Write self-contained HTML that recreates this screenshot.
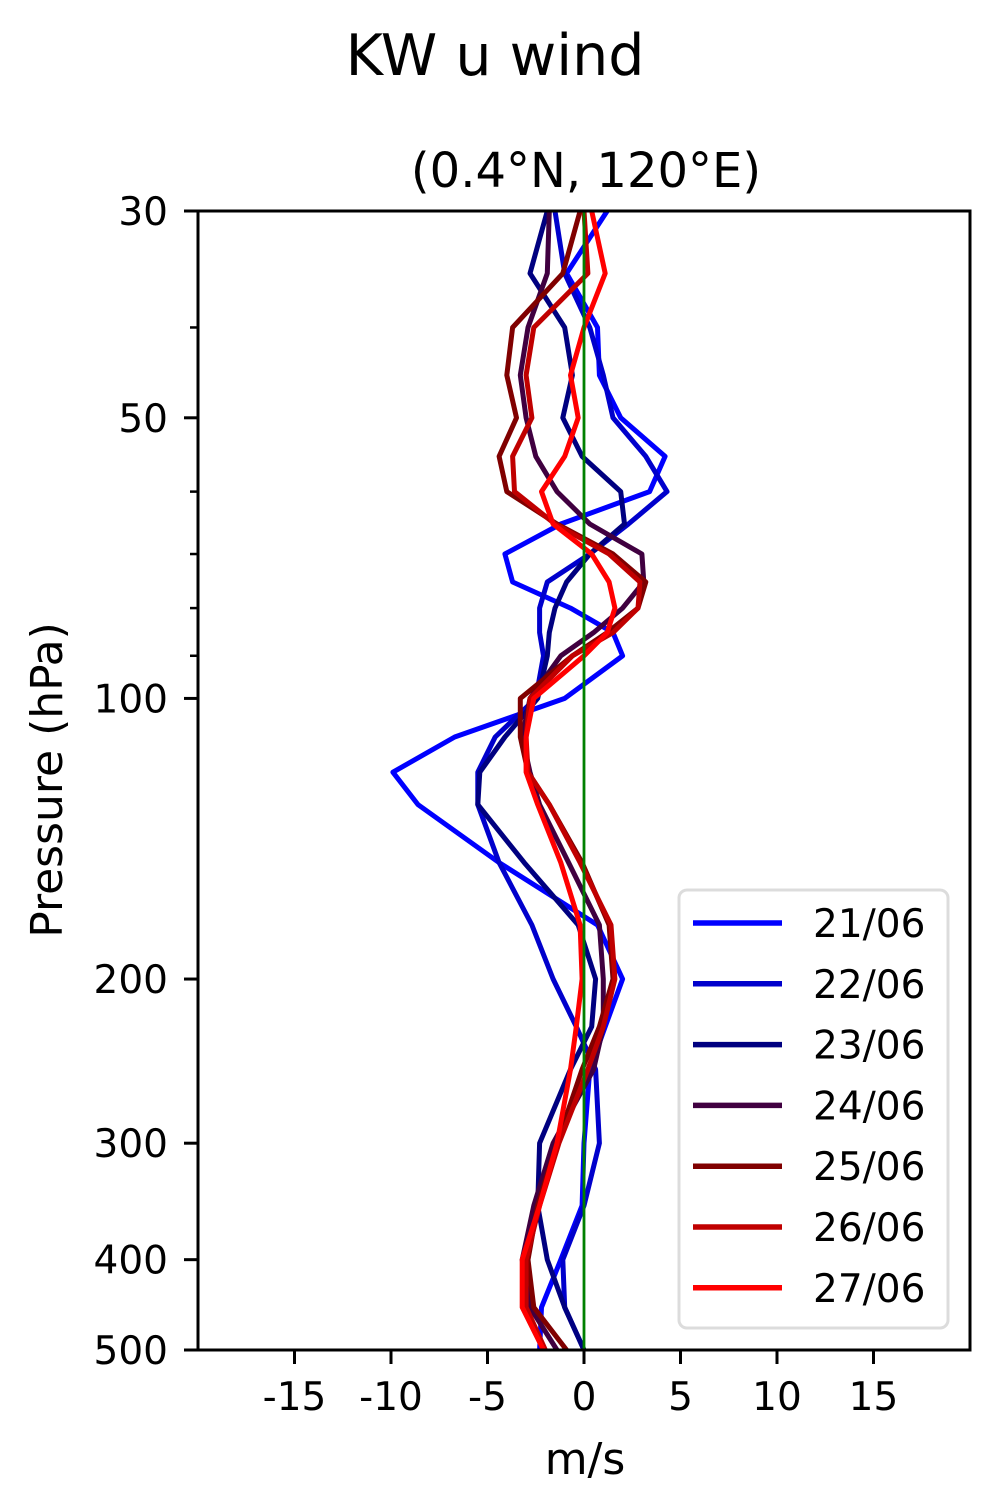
<!DOCTYPE html>
<html><head><meta charset="utf-8"><style>
html,body{margin:0;padding:0;background:#fff;}
svg{display:block;font-family:"DejaVu Sans","Liberation Sans",sans-serif;}
</style></head><body>
<svg id="chart" width="990" height="1500" viewBox="0 0 990 1500" xmlns="http://www.w3.org/2000/svg">
<rect width="990" height="1500" fill="#fff"/>
<text x="495" y="75" style="font-size:57px" text-anchor="middle">KW u wind</text>
<text x="586" y="187" style="font-size:48px" text-anchor="middle">(0.4°N, 120°E)</text>
<g id="plot"></g>
<g id="axes"></g>
<text x="585" y="1474" style="font-size:44px" text-anchor="middle">m/s</text>
<text transform="translate(62,780) rotate(-90)" style="font-size:44px" text-anchor="middle">Pressure (hPa)</text>
<g id="legend"></g>
</svg>
<script>
const levels = [30,35,40,45,50,55,60,65,70,75,80,85,90,100,110,120,130,150,175,200,225,250,300,350,400,450,500];
const dates = ["21/06","22/06","23/06","24/06","25/06","26/06","27/06"];
const colors = ["#0000ff","#0000cc","#000080","#400040","#800000","#c00000","#ff0000"];
const s21 = [1.2,-0.9,0.7,0.8,1.9,4.2,3.4,-1.2,-4.1,-3.7,-0.7,1.5,2.0,-1.0,-6.7,-9.9,-8.6,-4.4,0.7,2.0,1.1,0.3,0.0,-0.1,-1.2,-2.2,-2.3];
const s22 = [-1.5,-1.0,0.3,1.0,1.5,3.2,4.3,2.3,0.3,-1.9,-2.3,-2.3,-2.1,-2.5,-4.6,-5.5,-5.5,-4.4,-2.7,-1.6,-0.4,0.6,0.8,0.0,-1.1,-1.0,0.0];
const s23 = [-1.9,-2.8,-1.0,-0.6,-1.1,-0.1,1.9,2.1,0.3,-0.9,-1.5,-1.8,-1.9,-2.4,-4.1,-5.4,-5.5,-3.1,-0.3,0.6,0.4,-0.7,-2.3,-2.4,-1.9,-1.0,0.0];
const s24 = [-1.8,-1.9,-2.9,-3.3,-3.0,-2.5,-1.4,0.3,3.0,3.1,2.0,0.5,-1.2,-2.8,-3.2,-2.8,-2.3,-0.8,0.8,1.0,1.0,0.5,-1.6,-2.6,-3.2,-2.8,-1.4];
const s25 = [-0.2,-1.1,-3.7,-4.0,-3.5,-4.4,-4.0,-1.4,1.5,3.2,2.8,1.2,-0.6,-3.3,-3.3,-2.9,-1.8,-0.1,1.3,1.5,0.8,-0.1,-1.4,-2.4,-2.9,-2.6,-0.9];
const s26 = [0.0,0.2,-2.6,-3.0,-2.7,-3.7,-3.6,-1.5,1.3,2.9,2.8,1.5,-0.6,-2.8,-3.0,-2.9,-1.8,-0.2,1.4,1.6,1.0,0.2,-1.3,-2.3,-3.0,-3.0,-2.0];
const s27 = [0.4,1.1,0.0,-0.7,-0.3,-1.0,-2.2,-1.6,0.4,1.3,1.6,1.2,0.0,-2.6,-3.0,-3.0,-2.4,-1.2,-0.2,-0.1,-0.4,-0.7,-1.4,-2.3,-3.2,-3.2,-2.1];
const series = [s21,s22,s23,s24,s25,s26,s27];
const xTicks = [-15,-10,-5,0,5,10,15];
const yTicks = [30,50,100,200,300,400,500];
const yMinor = [40,60,70,80,90];

const NS="http://www.w3.org/2000/svg";
const L=198,R=970,T=211,B=1350, XMIN=-20,XMAX=20, PMIN=30,PMAX=500;
const xs=v=>L+(v-XMIN)/(XMAX-XMIN)*(R-L);
const ys=p=>T+Math.log10(p/PMIN)/Math.log10(PMAX/PMIN)*(B-T);
function mk(tag,attrs,parent){const e=document.createElementNS(NS,tag);for(const k in attrs)e.setAttribute(k,attrs[k]);parent.appendChild(e);return e;}
const plot=document.getElementById('plot'), axes=document.getElementById('axes'), leg=document.getElementById('legend');

series.forEach((s,i)=>{
  const d=s.map((v,j)=>(j?'L':'M')+xs(v).toFixed(1)+','+ys(levels[j]).toFixed(1)).join(' ');
  const p=mk('path',{d:d,fill:'none',stroke:colors[i],'stroke-width':5,'stroke-linejoin':'round'},plot);
  
  
});
const zl=mk('line',{x1:xs(0),x2:xs(0),y1:T,y2:B,stroke:'#008000','stroke-width':2.8},plot);



const fr=mk('rect',{x:L,y:T,width:R-L,height:B-T,fill:'none',stroke:'#000','stroke-width':3},axes);


xTicks.forEach(t=>{
  const x=xs(t);
  const tk=mk('line',{x1:x,x2:x,y1:B,y2:B+14,stroke:'#000','stroke-width':3},axes);
  
  
  const tx=mk('text',{x:x,y:1410,'text-anchor':'middle',style:'font-size:39px'},axes);
  tx.textContent=t;
  
  
});
yTicks.forEach(t=>{
  const y=ys(t);
  const tk=mk('line',{x1:L-14,x2:L,y1:y,y2:y,stroke:'#000','stroke-width':3},axes);
  
  
  const tx=mk('text',{x:168,y:y+14,'text-anchor':'end',style:'font-size:39px'},axes);
  tx.textContent=t;
  
  
});
yMinor.forEach(t=>{
  const y=ys(t);
  const tk=mk('line',{x1:L-8,x2:L,y1:y,y2:y,stroke:'#000','stroke-width':2.5},axes);
  
  
});

const lb=mk('rect',{x:679,y:890,width:269,height:438,rx:8,fill:'#fff','fill-opacity':0.85,stroke:'#dcdcdc','stroke-width':3},leg);


dates.forEach((d,i)=>{
  const y=923+i*60.8;
  const g=mk('g',{},leg);
  
  
  mk('line',{x1:693,x2:782,y1:y,y2:y,stroke:colors[i],'stroke-width':5.5},g);
  const t=mk('text',{x:813,y:y+14,style:'font-size:39px'},g);
  t.textContent=d;
});
</script>
</body></html>
